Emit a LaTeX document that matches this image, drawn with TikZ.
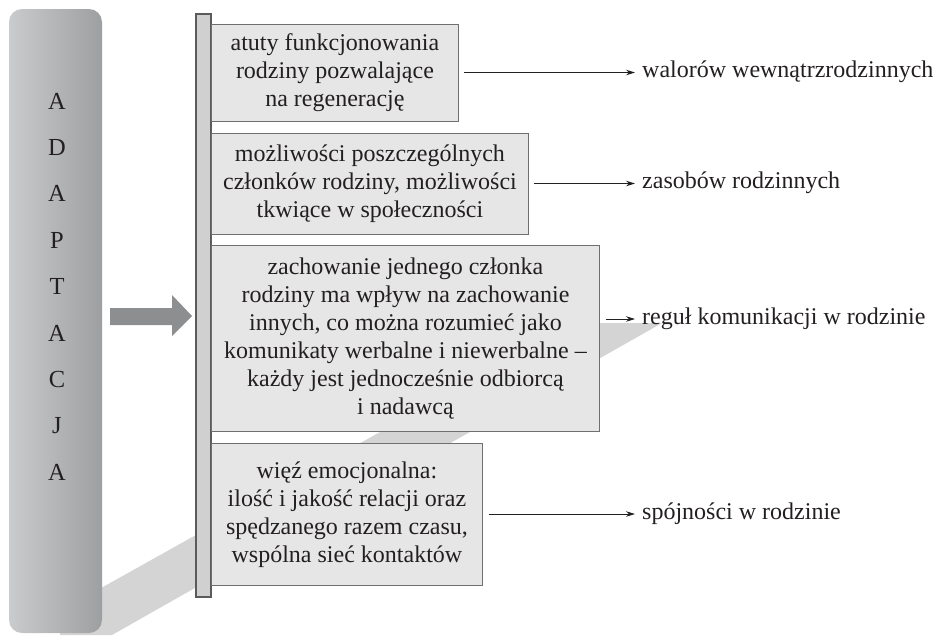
\documentclass[tikz,border=0pt]{standalone}
\usepackage{fontspec}
\setmainfont{Liberation Serif}
\usetikzlibrary{arrows.meta,calc}
\definecolor{bandgray}{HTML}{D4D4D4}
\definecolor{pilL}{HTML}{CACBCD}
\definecolor{pilR}{HTML}{9E9FA1}
\definecolor{arrowgray}{HTML}{8D8E90}
\definecolor{boxfill}{HTML}{E6E6E7}
\definecolor{boxedge}{HTML}{6F6F6F}
\definecolor{railfill}{HTML}{D0D0D0}
\definecolor{railedge}{HTML}{5B5B5B}
\definecolor{ink}{HTML}{231F20}
\begin{document}
\begin{tikzpicture}[x=1pt,y=-1pt,
  box/.style={draw=boxedge, fill=boxfill, line width=0.9pt, anchor=north west,
    align=center, text=ink, inner sep=0pt, font=\fontsize{24}{28}\selectfont},
  lab/.style={anchor=west, inner sep=0pt, text=ink, text height=14pt, text depth=4pt,
    font=\fontsize{24}{28}\selectfont},
  letter/.style={anchor=base, inner sep=0pt, text=ink, font=\fontsize{24.5}{26}\selectfont},
  conn/.style={-{Stealth[length=9pt,width=5.5pt]}, line width=0.9pt, draw=ink, shorten >=7pt}]
\useasboundingbox (0,0) rectangle (936,635);
% diagonal band
\fill[bandgray] (60,611) -- (575,323) -- (662,323) -- (112,635) -- (60,635) -- cycle;
% pillar
\shade[left color=pilL, right color=pilR, rounded corners=13pt] (9,9) rectangle (102,633);
\foreach \l [count=\i from 0] in {A,D,A,P,T,A,C,J,A}
  \node[letter] (L\i) at (57,{109+46.4*\i}) {\l};
% gray arrow
\fill[arrowgray] (110,308) -- (172,308) -- (172,295) -- (192,316) -- (172,336) -- (172,325) -- (110,325) -- cycle;
% rail
\draw[draw=railedge, fill=railfill, line width=2pt] (196,14) rectangle (211,597);
% boxes
\node[box, minimum width=247pt, minimum height=97pt] (b1) at (211,24)
  {atuty funkcjonowania\\rodziny pozwalające\\na regenerację};
\node[box, minimum width=317pt, minimum height=101pt] (b2) at (211,133)
  {możliwości poszczególnych\\członków rodziny, możliwości\\tkwiące w społeczności};
\node[box, minimum width=388pt, minimum height=186pt] (b3) at (211,245)
  {zachowanie jednego członka\\rodziny ma wpływ na zachowanie\\innych, co można rozumieć jako\\komunikaty werbalne i niewerbalne –\\każdy jest jednocześnie odbiorcą\\i nadawcą};
\node[box, minimum width=271pt, minimum height=142pt] (b4) at (211,443)
  {więź emocjonalna:\\ilość i jakość relacji oraz\\spędzanego razem czasu,\\wspólna sieć kontaktów};
% labels
\node[lab] (l1) at (642,72.5) {walorów wewnątrzrodzinnych};
\node[lab] (l2) at (642,183.5) {zasobów rodzinnych};
\node[lab] (l3) at (642,319) {reguł komunikacji w rodzinie};
\node[lab] (l4) at (642,514) {spójności w rodzinie};
% connectors
\draw[conn] ($(b1.east |- l1.west)+(5,0)$) -- (l1.west);
\draw[conn] ($(b2.east |- l2.west)+(5,0)$) -- (l2.west);
\draw[conn] ($(b3.east |- l3.west)+(6,0)$) -- (l3.west);
\draw[conn] ($(b4.east |- l4.west)+(6,0)$) -- (l4.west);
\end{tikzpicture}
\end{document}
